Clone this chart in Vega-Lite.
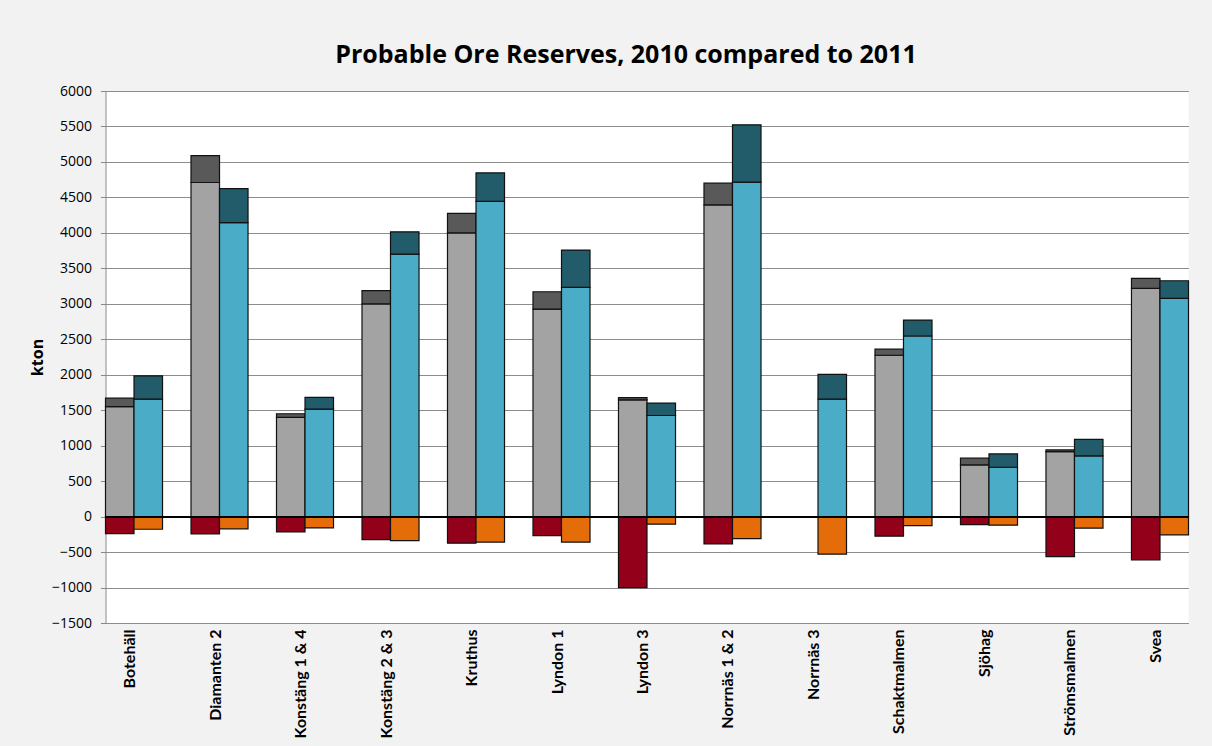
{
  "$schema": "https://vega.github.io/schema/vega-lite/v6.json",
  "width": 1083,
  "height": 532,
  "autosize": "none",
  "padding": {"left": 105.5, "top": 91, "right": 23.5, "bottom": 123},
  "background": "#F2F2F2",
  "title": {
    "text": "Probable Ore Reserves, 2010 compared to 2011",
    "font": "Open Sans",
    "fontSize": 25,
    "fontWeight": "bold",
    "color": "#000000",
    "anchor": "middle",
    "dx": -21,
    "offset": 16
  },
  "data": {
    "values": [
      {"site": "Botehäll", "year": "2010", "series": "2010 a reserve", "kton": 1550},
      {"site": "Botehäll", "year": "2010", "series": "2010 b added", "kton": 120},
      {"site": "Botehäll", "year": "2010", "series": "2010 c removed", "kton": -240},
      {"site": "Botehäll", "year": "2011", "series": "2011 a reserve", "kton": 1655},
      {"site": "Botehäll", "year": "2011", "series": "2011 b added", "kton": 330},
      {"site": "Botehäll", "year": "2011", "series": "2011 c removed", "kton": -178},

      {"site": "Diamanten 2", "year": "2010", "series": "2010 a reserve", "kton": 4710},
      {"site": "Diamanten 2", "year": "2010", "series": "2010 b added", "kton": 380},
      {"site": "Diamanten 2", "year": "2010", "series": "2010 c removed", "kton": -244},
      {"site": "Diamanten 2", "year": "2011", "series": "2011 a reserve", "kton": 4145},
      {"site": "Diamanten 2", "year": "2011", "series": "2011 b added", "kton": 480},
      {"site": "Diamanten 2", "year": "2011", "series": "2011 c removed", "kton": -173},

      {"site": "Konstäng 1 & 4", "year": "2010", "series": "2010 a reserve", "kton": 1400},
      {"site": "Konstäng 1 & 4", "year": "2010", "series": "2010 b added", "kton": 50},
      {"site": "Konstäng 1 & 4", "year": "2010", "series": "2010 c removed", "kton": -216},
      {"site": "Konstäng 1 & 4", "year": "2011", "series": "2011 a reserve", "kton": 1515},
      {"site": "Konstäng 1 & 4", "year": "2011", "series": "2011 b added", "kton": 165},
      {"site": "Konstäng 1 & 4", "year": "2011", "series": "2011 c removed", "kton": -160},

      {"site": "Konstäng 2 & 3", "year": "2010", "series": "2010 a reserve", "kton": 3000},
      {"site": "Konstäng 2 & 3", "year": "2010", "series": "2010 b added", "kton": 185},
      {"site": "Konstäng 2 & 3", "year": "2010", "series": "2010 c removed", "kton": -325},
      {"site": "Konstäng 2 & 3", "year": "2011", "series": "2011 a reserve", "kton": 3700},
      {"site": "Konstäng 2 & 3", "year": "2011", "series": "2011 b added", "kton": 315},
      {"site": "Konstäng 2 & 3", "year": "2011", "series": "2011 c removed", "kton": -340},

      {"site": "Kruthus", "year": "2010", "series": "2010 a reserve", "kton": 4000},
      {"site": "Kruthus", "year": "2010", "series": "2010 b added", "kton": 275},
      {"site": "Kruthus", "year": "2010", "series": "2010 c removed", "kton": -375},
      {"site": "Kruthus", "year": "2011", "series": "2011 a reserve", "kton": 4445},
      {"site": "Kruthus", "year": "2011", "series": "2011 b added", "kton": 400},
      {"site": "Kruthus", "year": "2011", "series": "2011 c removed", "kton": -360},

      {"site": "Lyndon 1", "year": "2010", "series": "2010 a reserve", "kton": 2925},
      {"site": "Lyndon 1", "year": "2010", "series": "2010 b added", "kton": 245},
      {"site": "Lyndon 1", "year": "2010", "series": "2010 c removed", "kton": -268},
      {"site": "Lyndon 1", "year": "2011", "series": "2011 a reserve", "kton": 3232},
      {"site": "Lyndon 1", "year": "2011", "series": "2011 b added", "kton": 525},
      {"site": "Lyndon 1", "year": "2011", "series": "2011 c removed", "kton": -360},

      {"site": "Lyndon 3", "year": "2010", "series": "2010 a reserve", "kton": 1645},
      {"site": "Lyndon 3", "year": "2010", "series": "2010 b added", "kton": 32},
      {"site": "Lyndon 3", "year": "2010", "series": "2010 c removed", "kton": -1000},
      {"site": "Lyndon 3", "year": "2011", "series": "2011 a reserve", "kton": 1425},
      {"site": "Lyndon 3", "year": "2011", "series": "2011 b added", "kton": 175},
      {"site": "Lyndon 3", "year": "2011", "series": "2011 c removed", "kton": -107},

      {"site": "Norrnäs 1 & 2", "year": "2010", "series": "2010 a reserve", "kton": 4395},
      {"site": "Norrnäs 1 & 2", "year": "2010", "series": "2010 b added", "kton": 305},
      {"site": "Norrnäs 1 & 2", "year": "2010", "series": "2010 c removed", "kton": -385},
      {"site": "Norrnäs 1 & 2", "year": "2011", "series": "2011 a reserve", "kton": 4716},
      {"site": "Norrnäs 1 & 2", "year": "2011", "series": "2011 b added", "kton": 807},
      {"site": "Norrnäs 1 & 2", "year": "2011", "series": "2011 c removed", "kton": -310},

      {"site": "Norrnäs 3", "year": "2011", "series": "2011 a reserve", "kton": 1655},
      {"site": "Norrnäs 3", "year": "2011", "series": "2011 b added", "kton": 350},
      {"site": "Norrnäs 3", "year": "2011", "series": "2011 c removed", "kton": -530},

      {"site": "Schaktmalmen", "year": "2010", "series": "2010 a reserve", "kton": 2275},
      {"site": "Schaktmalmen", "year": "2010", "series": "2010 b added", "kton": 85},
      {"site": "Schaktmalmen", "year": "2010", "series": "2010 c removed", "kton": -276},
      {"site": "Schaktmalmen", "year": "2011", "series": "2011 a reserve", "kton": 2546},
      {"site": "Schaktmalmen", "year": "2011", "series": "2011 b added", "kton": 225},
      {"site": "Schaktmalmen", "year": "2011", "series": "2011 c removed", "kton": -127},

      {"site": "Sjöhag", "year": "2010", "series": "2010 a reserve", "kton": 728},
      {"site": "Sjöhag", "year": "2010", "series": "2010 b added", "kton": 95},
      {"site": "Sjöhag", "year": "2010", "series": "2010 c removed", "kton": -113},
      {"site": "Sjöhag", "year": "2011", "series": "2011 a reserve", "kton": 696},
      {"site": "Sjöhag", "year": "2011", "series": "2011 b added", "kton": 187},
      {"site": "Sjöhag", "year": "2011", "series": "2011 c removed", "kton": -121},

      {"site": "Strömsmalmen", "year": "2010", "series": "2010 a reserve", "kton": 916},
      {"site": "Strömsmalmen", "year": "2010", "series": "2010 b added", "kton": 24},
      {"site": "Strömsmalmen", "year": "2010", "series": "2010 c removed", "kton": -564},
      {"site": "Strömsmalmen", "year": "2011", "series": "2011 a reserve", "kton": 855},
      {"site": "Strömsmalmen", "year": "2011", "series": "2011 b added", "kton": 235},
      {"site": "Strömsmalmen", "year": "2011", "series": "2011 c removed", "kton": -163},

      {"site": "Svea", "year": "2010", "series": "2010 a reserve", "kton": 3218},
      {"site": "Svea", "year": "2010", "series": "2010 b added", "kton": 141},
      {"site": "Svea", "year": "2010", "series": "2010 c removed", "kton": -610},
      {"site": "Svea", "year": "2011", "series": "2011 a reserve", "kton": 3077},
      {"site": "Svea", "year": "2011", "series": "2011 b added", "kton": 248},
      {"site": "Svea", "year": "2011", "series": "2011 c removed", "kton": -258}
    ]
  },
  "layer": [
    {
      "mark": {"type": "bar", "stroke": "#111111", "strokeWidth": 1.2},
      "encoding": {
        "x": {
          "field": "site",
          "type": "nominal",
          "sort": null,
          "scale": {"paddingInner": 0.333, "paddingOuter": 0},
          "axis": {
            "title": null,
            "labelAngle": -90,
            "labelFont": "Lato",
            "labelFontWeight": "bold",
            "labelFontSize": 16,
            "labelColor": "#000000",
            "labelPadding": 6,
            "labelOffset": -4,
            "labelOverlap": false,
            "labelLimit": 200,
            "ticks": false,
            "domain": false,
            "grid": false
          }
        },
        "xOffset": {
          "field": "year",
          "type": "nominal",
          "scale": {"paddingInner": 0, "paddingOuter": 0}
        },
        "y": {
          "field": "kton",
          "type": "quantitative",
          "stack": "zero",
          "scale": {"domain": [-1500, 6000], "nice": false, "zero": false},
          "axis": {
            "title": "kton",
            "titleFont": "Open Sans",
            "titleFontWeight": "bold",
            "titleFontSize": 16,
            "titleColor": "#000000",
            "titlePadding": 6,
            "tickCount": 15,
            "format": "d",
            "labelOverlap": false,
            "labelFont": "Open Sans",
            "labelFontSize": 14,
            "labelColor": "#000000",
            "labelPadding": 9,
            "ticks": true,
            "tickSize": 5,
            "tickColor": "#888888",
            "domainColor": "#888888",
            "grid": true,
            "gridColor": "#8c8c8c",
            "gridWidth": 1.2
          }
        },
        "color": {
          "field": "series",
          "type": "nominal",
          "scale": {
            "domain": ["2010 a reserve", "2010 b added", "2010 c removed", "2011 a reserve", "2011 b added", "2011 c removed"],
            "range": ["#A3A3A3", "#595959", "#93001A", "#4AACC6", "#225B69", "#E46D0A"]
          },
          "legend": null
        },
        "order": {"field": "series", "type": "nominal", "sort": "ascending"}
      }
    },
    {
      "mark": {"type": "rule", "color": "#000000", "strokeWidth": 1.2},
      "encoding": {"y": {"datum": 0}}
    }
  ],
  "config": {
    "view": {"fill": "#FFFFFF", "stroke": null}
  }
}
